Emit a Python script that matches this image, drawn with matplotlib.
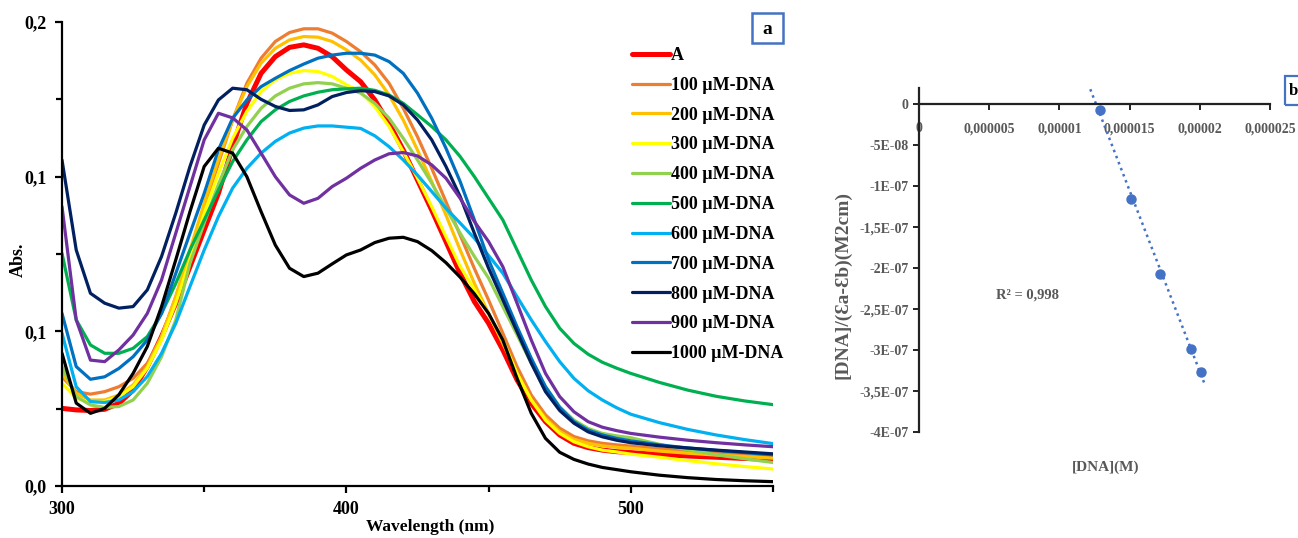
import numpy as np
import matplotlib
matplotlib.use("Agg")
import matplotlib.pyplot as plt
from matplotlib.patches import Rectangle
from matplotlib.ticker import MultipleLocator, FuncFormatter

plt.rcParams['font.family'] = ['Liberation Serif', 'DejaVu Serif']

# UV-vis spectra of the compound with increasing DNA
wavelength = list(range(300, 505, 5)) + [510, 520, 530, 540, 550]

abs_A = [0.0251, 0.0246, 0.0244, 0.0248, 0.0267, 0.0310, 0.0386, 0.0483, 0.0591, 0.0709,
         0.0828, 0.0946, 0.1097, 0.1237, 0.1334, 0.1388, 0.1418, 0.1426, 0.1415, 0.1388,
         0.1345, 0.1307, 0.1248, 0.1172, 0.1086, 0.0989, 0.0892, 0.0790, 0.0687, 0.0596,
         0.0526, 0.0440, 0.0343, 0.0267, 0.0208, 0.0165, 0.0138, 0.0124, 0.0116, 0.0111,
         0.0108, 0.0102, 0.0097, 0.0093, 0.0089, 0.0086]
abs_100 = [0.0353, 0.0305, 0.0297, 0.0305, 0.0321, 0.0348, 0.0397, 0.0483, 0.0612, 0.0752,
           0.0898, 0.1043, 0.1183, 0.1302, 0.1383, 0.1437, 0.1466, 0.1478, 0.1478, 0.1464,
           0.1437, 0.1404, 0.1361, 0.1302, 0.1221, 0.1129, 0.1027, 0.0919, 0.0811, 0.0703,
           0.0601, 0.0494, 0.0386, 0.0294, 0.0230, 0.0187, 0.0160, 0.0146, 0.0138, 0.0133,
           0.0129, 0.0120, 0.0113, 0.0107, 0.0102, 0.0098]
abs_200 = [0.0364, 0.0299, 0.0278, 0.0278, 0.0294, 0.0327, 0.0386, 0.0483, 0.0612, 0.0763,
           0.0914, 0.1054, 0.1183, 0.1291, 0.1367, 0.1415, 0.1442, 0.1453, 0.1451, 0.1437,
           0.1410, 0.1377, 0.1329, 0.1264, 0.1183, 0.1086, 0.0984, 0.0876, 0.0763, 0.0655,
           0.0558, 0.0461, 0.0364, 0.0278, 0.0219, 0.0176, 0.0151, 0.0138, 0.0130, 0.0125,
           0.0122, 0.0113, 0.0106, 0.0100, 0.0095, 0.0090]
abs_300 = [0.0332, 0.0284, 0.0270, 0.0273, 0.0289, 0.0321, 0.0381, 0.0472, 0.0591, 0.0731,
           0.0882, 0.1011, 0.1124, 0.1211, 0.1275, 0.1313, 0.1334, 0.1343, 0.1340, 0.1324,
           0.1297, 0.1274, 0.1226, 0.1162, 0.1081, 0.0995, 0.0903, 0.0806, 0.0710, 0.0635,
           0.0555, 0.0472, 0.0364, 0.0278, 0.0213, 0.0170, 0.0143, 0.0127, 0.0116, 0.0110,
           0.0103, 0.0093, 0.0082, 0.0072, 0.0063, 0.0055]
abs_400 = [0.0386, 0.0289, 0.0262, 0.0254, 0.0257, 0.0278, 0.0332, 0.0418, 0.0537, 0.0720,
           0.0850, 0.0975, 0.1087, 0.1162, 0.1221, 0.1261, 0.1286, 0.1300, 0.1304, 0.1300,
           0.1286, 0.1270, 0.1237, 0.1189, 0.1124, 0.1054, 0.0979, 0.0898, 0.0817, 0.0742,
           0.0672, 0.0580, 0.0489, 0.0397, 0.0321, 0.0256, 0.0213, 0.0186, 0.0170, 0.0162,
           0.0156, 0.0135, 0.0117, 0.0101, 0.0088, 0.0076]
abs_500 = [0.0752, 0.0537, 0.0456, 0.0429, 0.0429, 0.0445, 0.0483, 0.0558, 0.0655, 0.0763,
           0.0860, 0.0957, 0.1049, 0.1119, 0.1178, 0.1216, 0.1243, 0.1261, 0.1273, 0.1281,
           0.1284, 0.1286, 0.1279, 0.1264, 0.1237, 0.1200, 0.1162, 0.1119, 0.1065, 0.1000,
           0.0930, 0.0860, 0.0763, 0.0666, 0.0580, 0.0510, 0.0461, 0.0426, 0.0400, 0.0381,
           0.0364, 0.0335, 0.0310, 0.0290, 0.0275, 0.0263]
abs_600 = [0.0494, 0.0321, 0.0273, 0.0270, 0.0278, 0.0305, 0.0354, 0.0429, 0.0526, 0.0645,
           0.0763, 0.0871, 0.0963, 0.1027, 0.1076, 0.1114, 0.1141, 0.1157, 0.1164, 0.1164,
           0.1160, 0.1156, 0.1132, 0.1097, 0.1054, 0.1005, 0.0952, 0.0898, 0.0850, 0.0801,
           0.0745, 0.0688, 0.0612, 0.0537, 0.0467, 0.0402, 0.0348, 0.0308, 0.0278, 0.0253,
           0.0232, 0.0205, 0.0183, 0.0165, 0.0150, 0.0137]
abs_700 = [0.0558, 0.0386, 0.0345, 0.0353, 0.0380, 0.0418, 0.0472, 0.0558, 0.0687, 0.0817,
           0.0946, 0.1087, 0.1189, 0.1248, 0.1291, 0.1318, 0.1343, 0.1364, 0.1383, 0.1393,
           0.1399, 0.1399, 0.1393, 0.1372, 0.1334, 0.1270, 0.1189, 0.1092, 0.0984, 0.0860,
           0.0731, 0.0623, 0.0515, 0.0413, 0.0321, 0.0254, 0.0208, 0.0181, 0.0165, 0.0154,
           0.0146, 0.0133, 0.0123, 0.0115, 0.0108, 0.0101]
abs_800 = [0.1054, 0.0763, 0.0623, 0.0591, 0.0575, 0.0580, 0.0634, 0.0742, 0.0882, 0.1033,
           0.1167, 0.1248, 0.1286, 0.1281, 0.1250, 0.1227, 0.1214, 0.1216, 0.1232, 0.1259,
           0.1272, 0.1278, 0.1275, 0.1261, 0.1232, 0.1183, 0.1119, 0.1033, 0.0936, 0.0817,
           0.0704, 0.0602, 0.0499, 0.0397, 0.0305, 0.0244, 0.0203, 0.0175, 0.0159, 0.0148,
           0.0140, 0.0130, 0.0123, 0.0116, 0.0110, 0.0104]
abs_900 = [0.0903, 0.0537, 0.0407, 0.0402, 0.0440, 0.0488, 0.0558, 0.0666, 0.0817, 0.0968,
           0.1119, 0.1205, 0.1190, 0.1151, 0.1076, 0.1000, 0.0941, 0.0914, 0.0930, 0.0968,
           0.0995, 0.1027, 0.1054, 0.1074, 0.1078, 0.1067, 0.1038, 0.0995, 0.0930, 0.0855,
           0.0790, 0.0709, 0.0591, 0.0472, 0.0364, 0.0289, 0.0240, 0.0208, 0.0190, 0.0179,
           0.0170, 0.0158, 0.0148, 0.0140, 0.0133, 0.0127]
abs_1000 = [0.0429, 0.0268, 0.0235, 0.0251, 0.0295, 0.0364, 0.0451, 0.0580, 0.0731, 0.0887,
            0.1033, 0.1092, 0.1076, 0.1000, 0.0887, 0.0779, 0.0704, 0.0677, 0.0688, 0.0718,
            0.0747, 0.0763, 0.0787, 0.0801, 0.0804, 0.0790, 0.0761, 0.0722, 0.0675, 0.0621,
            0.0558, 0.0472, 0.0348, 0.0235, 0.0154, 0.0109, 0.0086, 0.0071, 0.0060, 0.0053,
            0.0046, 0.0035, 0.0027, 0.0021, 0.0017, 0.0014]

labels = ['A', '100 µM-DNA', '200 µM-DNA', '300 µM-DNA', '400 µM-DNA', '500 µM-DNA',
          '600 µM-DNA', '700 µM-DNA', '800 µM-DNA', '900 µM-DNA', '1000 µM-DNA']
colors = ['#FF0000', '#ED7D31', '#FFC000', '#FFFF00', '#92D050', '#00B050',
          '#00B0F0', '#0070C0', '#002060', '#7030A0', '#000000']
spectra = [abs_A, abs_100, abs_200, abs_300, abs_400, abs_500,
           abs_600, abs_700, abs_800, abs_900, abs_1000]

# binding plot
dna_conc = [1.29e-5, 1.51e-5, 1.72e-5, 1.94e-5, 2.01e-5]
dna_ratio = [-7e-9, -1.15e-7, -2.07e-7, -2.99e-7, -3.27e-7]

W, H = 1298, 538
fig = plt.figure(figsize=(W / 100, H / 100), dpi=100)

# ---- panel a ----
ax = fig.add_axes([62 / W, 1 - 486 / H, 711 / W, 464 / H])
for y, c, lab in zip(spectra, colors, labels):
    lw = 3.6 if lab == 'A' else 2.3
    ax.plot(wavelength, y, color=c, lw=lw, label=lab, solid_capstyle='round',
            solid_joinstyle='round')

ax.set_xlim(300, 550)
ax.set_ylim(0, 0.15)
ax.xaxis.set_major_locator(MultipleLocator(100))
ax.xaxis.set_minor_locator(MultipleLocator(50))
ax.yaxis.set_major_locator(MultipleLocator(0.05))
ax.yaxis.set_minor_locator(MultipleLocator(0.025))
ax.yaxis.set_major_formatter(FuncFormatter(lambda v, p: f"{v + 1e-9:.1f}".replace('.', ',')))
for s in ['top', 'right']:
    ax.spines[s].set_visible(False)
for s in ['left', 'bottom']:
    ax.spines[s].set_linewidth(1.6)
ax.tick_params(which='both', direction='out', width=1.6, labelsize=13, pad=6)
ax.tick_params(which='major', length=5)
ax.tick_params(which='minor', length=4)
for t in ax.get_xticklabels() + ax.get_yticklabels():
    t.set_fontweight('bold')

fig.text(430 / W, 1 - 527 / H, 'Wavelength (nm)', ha='center', va='center',
         fontsize=12.5, fontweight='bold')
fig.text(18 / W, 1 - 260 / H, 'Abs.', ha='center', va='center', rotation=90,
         fontsize=13, fontweight='bold')

leg = ax.legend(loc='upper left', bbox_to_anchor=(632 / W, 1 - 47 / H),
                bbox_transform=fig.transFigure, frameon=False, borderpad=0,
                borderaxespad=0, handlelength=2.1, handletextpad=0.05,
                labelspacing=0.71, prop={'size': 13, 'weight': 'bold'})

fig.patches.append(Rectangle((752 / W, 1 - 43 / H), 31 / W, 30 / H,
                             transform=fig.transFigure, fill=False,
                             ec='#4472C4', lw=1.8))
fig.text(767.5 / W, 1 - 30 / H, 'a', ha='center', va='center', fontsize=14,
         fontweight='bold')

# ---- panel b ----
grey = '#595959'
bx = fig.add_axes([919 / W, 1 - 432 / H, 351 / W, 344 / H])
slope, intercept = np.polyfit(dna_conc, dna_ratio, 1)
xfit = np.array([1.22e-5, 2.04e-5])
bx.plot(xfit, slope * xfit + intercept, ls=(0, (1, 1.6)), color='#4472C4', lw=1.8)
bx.plot(dna_conc, dna_ratio, 'o', color='#4472C4', ms=6.5, mec='#4472C4')

bx.set_xlim(0, 2.5e-5)
bx.set_ylim(-4e-7, 2e-8)
bx.xaxis.set_major_locator(MultipleLocator(5e-6))
bx.yaxis.set_major_locator(MultipleLocator(5e-8))


def fmt_x(v, p):
    if abs(v) < 1e-12:
        return '0'
    return f"{v:.6f}".rstrip('0').replace('.', ',')


def fmt_y(v, p):
    if abs(v) < 1e-12:
        return '0'
    return f"{v:.1E}".replace('.0E', 'E').replace('.', ',')


bx.xaxis.set_major_formatter(FuncFormatter(fmt_x))
bx.yaxis.set_major_formatter(FuncFormatter(fmt_y))
bx.spines['top'].set_visible(False)
bx.spines['right'].set_visible(False)
bx.spines['bottom'].set_position(('data', 0))
bx.spines['left'].set_linewidth(1.6)
bx.spines['bottom'].set_linewidth(1.6)
bx.spines['left'].set_color('#222222')
bx.spines['bottom'].set_color('#222222')
bx.tick_params(axis='both', direction='out', length=4, width=1.4,
               labelsize=10, labelcolor=grey, color='#222222')
bx.tick_params(axis='x', pad=9)
for t in bx.get_xticklabels() + bx.get_yticklabels():
    t.set_fontweight('bold')

fig.text(1106 / W, 1 - 467 / H, '[DNA](M)', ha='center', va='center',
         fontsize=11, color=grey, fontweight='bold')
fig.text(843 / W, 1 - 285 / H, '[DNA]/(Ɛa-Ɛb)(M2cm)', ha='center', va='center',
         rotation=90, fontsize=14, color=grey, fontweight='bold')
fig.text(1028 / W, 1 - 295 / H, 'R² = 0,998', ha='center', va='center',
         fontsize=10.5, color=grey, fontweight='bold')

fig.patches.append(Rectangle((1285 / W, 1 - 105 / H), 30 / W, 29 / H,
                             transform=fig.transFigure, fill=False,
                             ec='#4472C4', lw=1.6))
fig.text(1293 / W, 1 - 91 / H, 'b', ha='center', va='center', fontsize=12,
         fontweight='bold')

fig.savefig('out.png', dpi=100)
